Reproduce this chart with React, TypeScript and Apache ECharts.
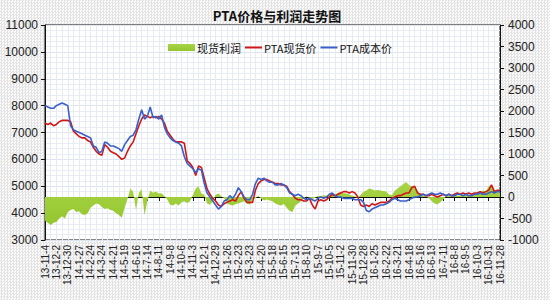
import React, { useEffect, useRef } from "react";
import * as echarts from "echarts";

// Weekly categories starting 2013-11-04 (161 weeks), labelled yy-m-d
const startDate = Date.UTC(2013, 10, 4);
const categories: string[] = [];
for (let i = 0; i < 161; i++) {
  const d = new Date(startDate + i * 7 * 86400000);
  categories.push(`${String(d.getUTCFullYear()).slice(2)}-${d.getUTCMonth() + 1}-${d.getUTCDate()}`);
}

const costPrice = [
  8000, 7950, 7900, 7900, 8000, 8050, 8100, 8050, 8000, 7250,
  7100, 7050, 7000, 6950, 6900, 6850, 6800, 6500, 6450, 6250,
  6300, 6650, 6600, 6500, 6500, 6450, 6400, 6300, 6550, 6700,
  6850, 6900, 7100, 7500, 7850, 7500, 7600, 7950, 7550, 7600,
  7500, 7650, 7200, 6950, 6800, 6700, 6650, 6600, 6500, 6100,
  5850, 5750, 5650, 5500, 5650, 5600, 5100, 4750, 4600, 4450,
  4300, 4150, 4250, 4450, 4500, 4650, 4550, 4700, 4950, 4800,
  4600, 4500, 4500, 4700, 5100, 5300, 5250, 5300, 5200, 5150,
  5150, 5050, 5050, 5100, 5050, 4950, 4750, 4700, 4650, 4700,
  4650, 4550, 4500, 4550, 4500, 4450, 4550, 4600, 4550, 4600,
  4700, 4750, 4650, 4600, 4600, 4550, 4550, 4550, 4550, 4500,
  4500, 4500, 4400, 4100, 4050, 4150, 4200, 4250, 4300, 4300,
  4350, 4400, 4500, 4550, 4500, 4450, 4450, 4450, 4500, 4550,
  4600, 4600, 4650, 4700, 4650, 4700, 4750, 4700, 4700, 4750,
  4700, 4650, 4700, 4650, 4650, 4700, 4700, 4650, 4700, 4650,
  4650, 4700, 4700, 4750, 4700, 4700, 4750, 4800, 4750, 4800,
  4800,
];

const spotPrice = [
  7350, 7300, 7350, 7250, 7300, 7400, 7450, 7450, 7450, 7400,
  7050, 6950, 6850, 6800, 6800, 6700, 6650, 6450, 6300, 6200,
  6150, 6550, 6450, 6300, 6250, 6200, 6100, 6000, 6050, 6300,
  6500, 6650, 6950, 7250, 7500, 7650, 7600, 7550, 7600, 7550,
  7600, 7500, 7350, 7050, 6900, 6750, 6650, 6650, 6650, 6600,
  5950, 5850, 5700, 5400, 5750, 5700, 5300, 4900, 4700, 4550,
  4450, 4300, 4250, 4350, 4400, 4450, 4500, 4450, 4650, 4800,
  4550, 4400, 4400, 4400, 4850, 5100, 5200, 5250, 5250, 5200,
  5150, 5100, 5100, 5050, 5050, 5000, 4800, 4700, 4550, 4500,
  4500, 4450, 4450, 4550, 4300, 4150, 4450, 4500, 4450, 4500,
  4600, 4700, 4650, 4700, 4750, 4800, 4800, 4750, 4800, 4750,
  4600, 4300, 4250, 4300, 4250, 4350, 4300, 4350, 4400, 4400,
  4400, 4450, 4550, 4600, 4650, 4650, 4700, 4750, 4750, 4950,
  5000, 4750, 4700, 4700, 4650, 4650, 4700, 4650, 4600, 4650,
  4700, 4650, 4700, 4650, 4700, 4750, 4700, 4750, 4700, 4750,
  4700, 4750, 4750, 4800, 4750, 4800, 4850, 5050, 4800, 4850,
  4850,
];

const spotProfit = [
  -550, -600, -650, -600, -580, -500, -450, -500, -350, -300,
  -280, -350, -330, -400, -420, -380, -250, -200, -150, -170,
  -230, -280, -260, -300, -320, -380, -420, -480, -250, -50,
  200, 120, -300, 100, 180, -420, -100, 150, 100, 130,
  80, 90, 20, -60, -180, -200, -150, -200, -120, -100,
  -140, -100, 50, 200, 250, 80, 50, -150, -180, -100,
  50, 80, 20, -30, -150, -180, -200, -160, -150, -120,
  -100, -150, -180, -50, -30, 30, -40, -80, -60, -80,
  -100, -150, -180, -200, -160, -250, -320, -350, -200, -150,
  -100, -30, 20, -20, -50, -20, 30, 20, 40, 30,
  50, 60, 40, 100, 120, 90, 80, 60, 30, 10,
  -20, 50, 120, 150, 200, 180, 150, 160, 150, 140,
  130, 60, 40, 150, 200, 250, 300, 350, 280, 250,
  230, 150, 60, 30, 20, -30, -100, -150, -170, -120,
  -60, 20, 30, 20, 40, 30, 40, 50, 60, 40,
  60, 80, 100, 120, 150, 130, 250, 280, 150, 120,
  100,
];

const leftTicks = { min: 3000, max: 11000, interval: 1000 };
const rightTicks = { min: -1000, max: 4000, interval: 500 };

const FONT = "'Liberation Sans', 'Noto Sans CJK SC', sans-serif";
const CJK = "'Noto Sans CJK SC', sans-serif";

export default function App() {
  const ref = useRef<HTMLDivElement>(null);
  useEffect(() => {
    if (!ref.current) return;
    const chart = echarts.init(ref.current, null, { renderer: "svg" });
    const greenGrad = new echarts.graphic.LinearGradient(0, 0, 0, 1, [
      { offset: 0, color: "#a9d447" },
      { offset: 1, color: "#93c62e" },
    ]);
    const plain = (v: number) => String(v);
    chart.setOption({
      animation: false,
      backgroundColor: "transparent",
      title: {
        text: "PTA价格与利润走势图",
        left: 272,
        textAlign: "center",
        top: 4,
        textStyle: { fontFamily: CJK, fontSize: 13, fontWeight: "bold", color: "#111" },
      },
      legend: [
        {
          data: [{ name: "现货利润", icon: "rect" }],
          left: 163,
          top: 37,
          itemWidth: 27,
          itemHeight: 7,
          itemGap: 2,
          textStyle: { fontFamily: CJK, fontSize: 11, color: "#111", padding: [0, 0, 0, -3] },
        },
        {
          data: [
            { name: "PTA现货价", icon: "rect" },
            { name: "PTA成本价", icon: "rect" },
          ],
          left: 240,
          top: 37,
          itemWidth: 17,
          itemHeight: 2,
          itemGap: 4,
          textStyle: { fontFamily: CJK, fontSize: 11, color: "#111", padding: [0, 0, 0, -3] },
        },
      ],
      grid: {
        left: 45,
        right: 50,
        top: 25,
        bottom: 60,
        show: true,
        backgroundColor: "#ffffff",
        borderColor: "#111",
        borderWidth: 1,
      },
      xAxis: [
        {
          type: "category",
          data: categories,
          boundaryGap: false,
          axisLine: { lineStyle: { color: "#111", width: 1 } },
          axisTick: { show: true, interval: 3, length: 4, lineStyle: { color: "#111" } },
          axisLabel: {
            interval: 3,
            rotate: 90,
            fontSize: 10,
            fontFamily: FONT,
            color: "#222",
            margin: 5,
          },
          splitLine: { show: false },
        },
        {
          type: "value",
          min: 0,
          max: 160,
          interval: 2,
          position: "top",
          axisLine: { show: false },
          axisTick: { show: false },
          axisLabel: { show: false },
          splitLine: { show: true, lineStyle: { color: "#e6ebf2", width: 1 } },
        },
      ],
      yAxis: [
        {
          type: "value",
          ...leftTicks,
          axisLine: { show: true, lineStyle: { color: "#111" } },
          axisTick: { show: true, length: 4, lineStyle: { color: "#111" } },
          axisLabel: { fontSize: 12, fontFamily: FONT, color: "#222", margin: 7, formatter: plain },
          splitLine: { show: true, lineStyle: { color: "#dde4ee", width: 1 } },
          minorTick: { show: false, splitNumber: 5 },
          minorSplitLine: { show: true, lineStyle: { color: "#e8edf3", width: 1 } },
        },
        {
          type: "value",
          ...rightTicks,
          axisLine: { show: true, lineStyle: { color: "#111" } },
          axisTick: { show: true, length: 4, lineStyle: { color: "#111" } },
          axisLabel: { fontSize: 12, fontFamily: FONT, color: "#222", margin: 8, formatter: plain },
          splitLine: { show: false },
        },
      ],
      series: [
        {
          name: "现货利润",
          type: "line",
          yAxisIndex: 1,
          data: spotProfit,
          symbol: "none",
          lineStyle: { width: 0 },
          itemStyle: { color: greenGrad },
          areaStyle: { color: greenGrad, opacity: 1, origin: 0 },
          z: 1,
        },
        {
          name: "PTA现货价",
          type: "line",
          yAxisIndex: 0,
          data: spotPrice,
          symbol: "none",
          lineStyle: { width: 1.6, color: "#d01818" },
          itemStyle: { color: "#d01818" },
          z: 2,
        },
        {
          name: "PTA成本价",
          type: "line",
          yAxisIndex: 0,
          data: costPrice,
          symbol: "none",
          lineStyle: { width: 1.6, color: "#3b5fc8" },
          itemStyle: { color: "#3b5fc8" },
          z: 3,
        },
      ],
    });
    return () => chart.dispose();
  }, []);
  return (
    <div
      style={{
        position: "absolute",
        left: 0,
        top: 0,
        width: 550,
        height: 300,
        backgroundColor: "#f2f2f2",
        backgroundImage:
          "repeating-conic-gradient(#e3e3e3 0% 25%, #fbfbfb 0% 50%)",
        backgroundSize: "3px 3px",
      }}
    >
      <div ref={ref} style={{ width: 550, height: 300 }} />
    </div>
  );
}
